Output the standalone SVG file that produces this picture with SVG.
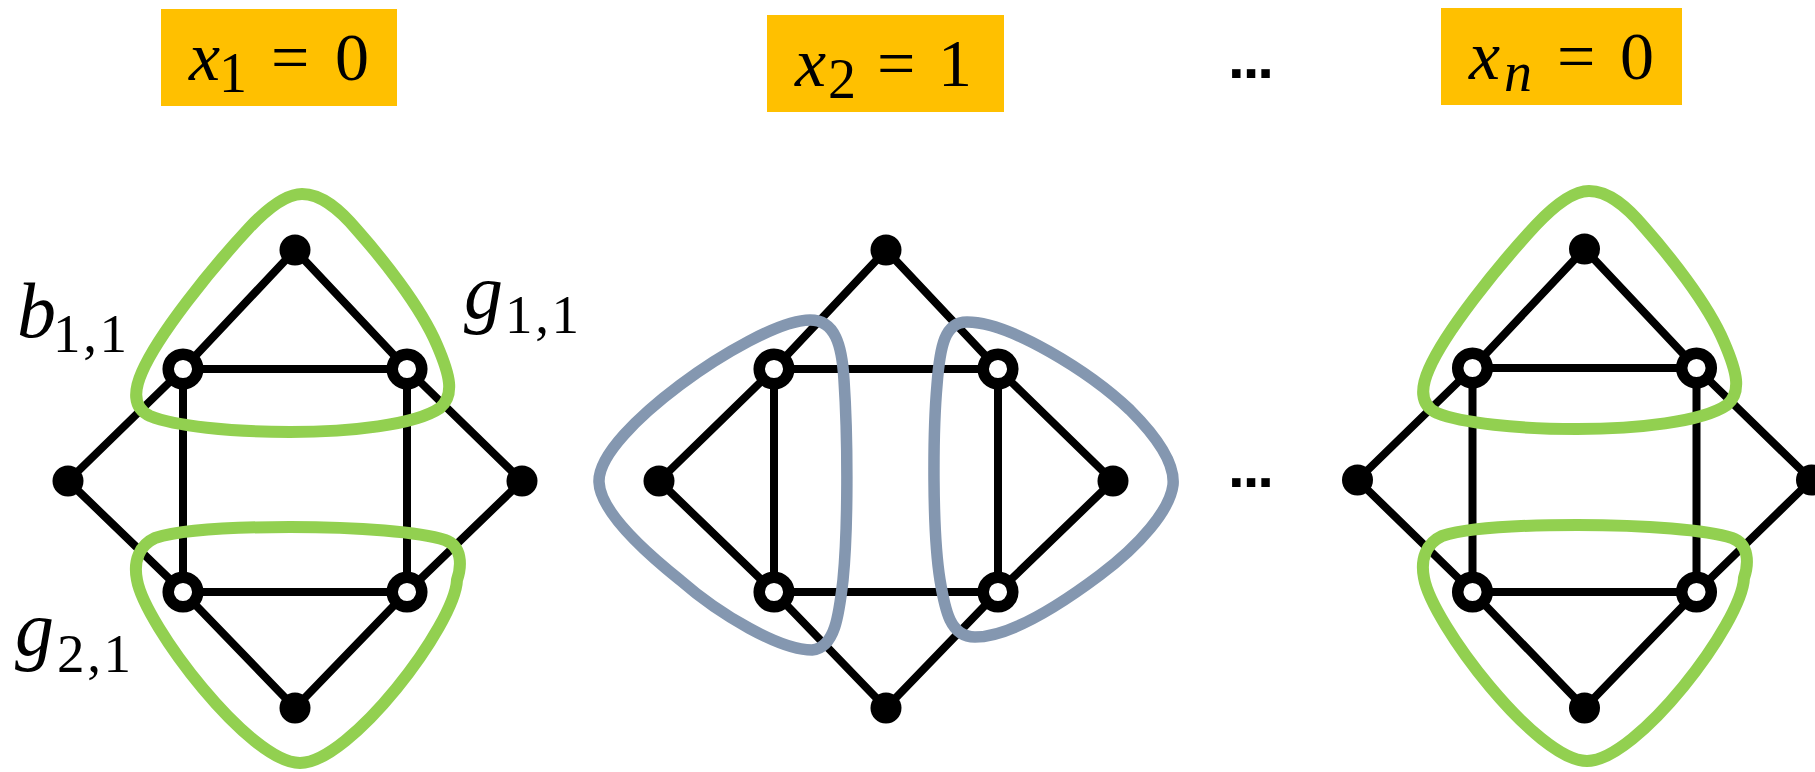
<svg xmlns="http://www.w3.org/2000/svg" width="1815" height="772" viewBox="0 0 1815 772">
<style>
.box{fill:#FFC000}
.edge{fill:none;stroke:#000;stroke-width:8;stroke-linejoin:round;stroke-linecap:round}
.dot{fill:#000}
.open{fill:#fff;stroke:#000;stroke-width:11.5}
.green{fill:none;stroke:#92D050;stroke-width:12}
.blue{fill:none;stroke:#8497B0;stroke-width:11.5}
.t{font-family:"Liberation Serif","Times New Roman",serif;fill:#000}
.mi{font-size:70px;font-style:italic}
.mr{font-size:68px}
.ms{font-size:56px}
.li{font-size:78px;font-style:italic}
.ls{font-size:55px}
.dots{font-family:"Liberation Sans",Arial,sans-serif;font-weight:bold;font-size:60px;letter-spacing:-2px;fill:#000}
</style>
<rect width="1815" height="772" fill="#fff"/>

<g id="box1">
<rect class="box" x="161" y="9" width="236" height="97"/>
<text class="t mi" x="189" y="80">x</text>
<text class="t ms" x="219" y="92">1</text>
<text class="t mr" x="271" y="80">=</text>
<text class="t mr" x="335" y="80">0</text>
</g>
<g id="box2">
<rect class="box" x="767" y="15" width="237" height="97"/>
<text class="t mi" x="795" y="86">x</text>
<text class="t ms" x="828" y="98">2</text>
<text class="t mr" x="877" y="86">=</text>
<text class="t mr" x="938" y="86">1</text>
</g>
<g id="box3">
<rect class="box" x="1441" y="8" width="241" height="97"/>
<text class="t mi" x="1469" y="79">x</text>
<text class="t ms" x="1504" y="91" font-style="italic">n</text>
<text class="t mr" x="1557" y="79">=</text>
<text class="t mr" x="1620" y="79">0</text>
</g>

<g id="ellipsis-top"><text class="dots" x="1228" y="78">...</text></g>
<g id="ellipsis-mid"><text class="dots" x="1228" y="487">...</text></g>

<g id="labels">
<text class="t li" x="17" y="337">b</text>
<text class="t ls" x="53" y="352" textLength="74" lengthAdjust="spacing">1,1</text>
<text class="t li" x="464" y="318">g</text>
<text class="t ls" x="505" y="333" textLength="74" lengthAdjust="spacing">1,1</text>
<text class="t li" x="15" y="655">g</text>
<text class="t ls" x="57" y="672" textLength="74" lengthAdjust="spacing">2,1</text>
</g>

<g id="connectors">
<path class="edge" d="M183,369 L295,250 L407,369 Z M183,369 L68,481 L183,592 M407,369 L522,481 L407,592 M183,592 L295,708 L407,592 Z M183,369 V592 M407,369 V592"/>
<path class="edge" d="M774,369 L886,250 L998,369 Z M774,369 L659,481 L774,592 M998,369 L1113,481 L998,592 M774,592 L886,708 L998,592 Z M774,369 V592 M998,369 V592"/>
<path class="edge" d="M1472.5,368 L1584.5,249 L1696.5,368 Z M1472.5,368 L1357.5,480 L1472.5,592 M1696.5,368 L1811.5,480 L1696.5,592 M1472.5,592 L1584.5,708 L1696.5,592 Z M1472.5,368 V592 M1696.5,368 V592"/>
</g>

<g id="groups">
<path id="g1-upper" class="green" d="M302,194 C322,194 340,210 357,230 C380,256 420,305 437,345 C450,375 455,395 440,408 C415,425 350,432 290,432 C230,432 175,426 150,416 C132,408 134,390 142,372 C158,335 210,270 249,228 C266,210 285,194 302,194 Z"/>
<path id="g1-lower" class="green" d="M290,527 C360,527 420,532 445,540 C462,546 462,565 457,580 C455,625 350,763 300,763 C250,763 145,625 137,580 C133,560 140,545 155,538 C180,530 230,527 290,527 Z"/>
<path id="g2-left" class="blue" d="M810,320 C835,320 842,345 844,380 C848,440 848,530 843,580 C839,615 835,648 812,650 C780,650 720,615 680,580 C640,548 600,510 599,482 C598,455 640,415 680,385 C720,355 780,320 810,320 Z"/>
<path id="g2-right" class="blue" d="M967,322 C1010,322 1090,372 1130,410 C1160,440 1175,465 1173,485 C1170,510 1140,545 1100,575 C1060,605 1010,637 975,637 C950,637 945,610 940,580 C932,530 933,430 937,385 C940,345 945,322 967,322 Z"/>
<path id="g3-upper" class="green" transform="translate(1287,-3)" d="M302,194 C322,194 340,210 357,230 C380,256 420,305 437,345 C450,375 455,395 440,408 C415,425 350,432 290,432 C230,432 175,426 150,416 C132,408 134,390 142,372 C158,335 210,270 249,228 C266,210 285,194 302,194 Z"/>
<path id="g3-lower" class="green" transform="translate(1287,-2)" d="M290,527 C360,527 420,532 445,540 C462,546 462,565 457,580 C455,625 350,763 300,763 C250,763 145,625 137,580 C133,560 140,545 155,538 C180,530 230,527 290,527 Z"/>
</g>

<g id="g1-T"><circle class="dot" cx="295" cy="250" r="15.5"/></g>
<g id="g1-UL"><circle class="open" cx="183" cy="369" r="14.8"/></g>
<g id="g1-UR"><circle class="open" cx="407" cy="369" r="14.8"/></g>
<g id="g1-L"><circle class="dot" cx="68" cy="481" r="15.5"/></g>
<g id="g1-R"><circle class="dot" cx="522" cy="481" r="15.5"/></g>
<g id="g1-LL"><circle class="open" cx="183" cy="592" r="14.8"/></g>
<g id="g1-LR"><circle class="open" cx="407" cy="592" r="14.8"/></g>
<g id="g1-B"><circle class="dot" cx="295" cy="708" r="15.5"/></g>

<g id="g2-T"><circle class="dot" cx="886" cy="250" r="15.5"/></g>
<g id="g2-UL"><circle class="open" cx="774" cy="369" r="14.8"/></g>
<g id="g2-UR"><circle class="open" cx="998" cy="369" r="14.8"/></g>
<g id="g2-L"><circle class="dot" cx="659" cy="481" r="15.5"/></g>
<g id="g2-R"><circle class="dot" cx="1113" cy="481" r="15.5"/></g>
<g id="g2-LL"><circle class="open" cx="774" cy="592" r="14.8"/></g>
<g id="g2-LR"><circle class="open" cx="998" cy="592" r="14.8"/></g>
<g id="g2-B"><circle class="dot" cx="886" cy="708" r="15.5"/></g>

<g id="g3-T"><circle class="dot" cx="1584.5" cy="249" r="15.5"/></g>
<g id="g3-UL"><circle class="open" cx="1472.5" cy="368" r="14.8"/></g>
<g id="g3-UR"><circle class="open" cx="1696.5" cy="368" r="14.8"/></g>
<g id="g3-L"><circle class="dot" cx="1357.5" cy="480" r="15.5"/></g>
<g id="g3-R"><circle class="dot" cx="1811.5" cy="480" r="15.5"/></g>
<g id="g3-LL"><circle class="open" cx="1472.5" cy="592" r="14.8"/></g>
<g id="g3-LR"><circle class="open" cx="1696.5" cy="592" r="14.8"/></g>
<g id="g3-B"><circle class="dot" cx="1584.5" cy="708" r="15.5"/></g>
</svg>
